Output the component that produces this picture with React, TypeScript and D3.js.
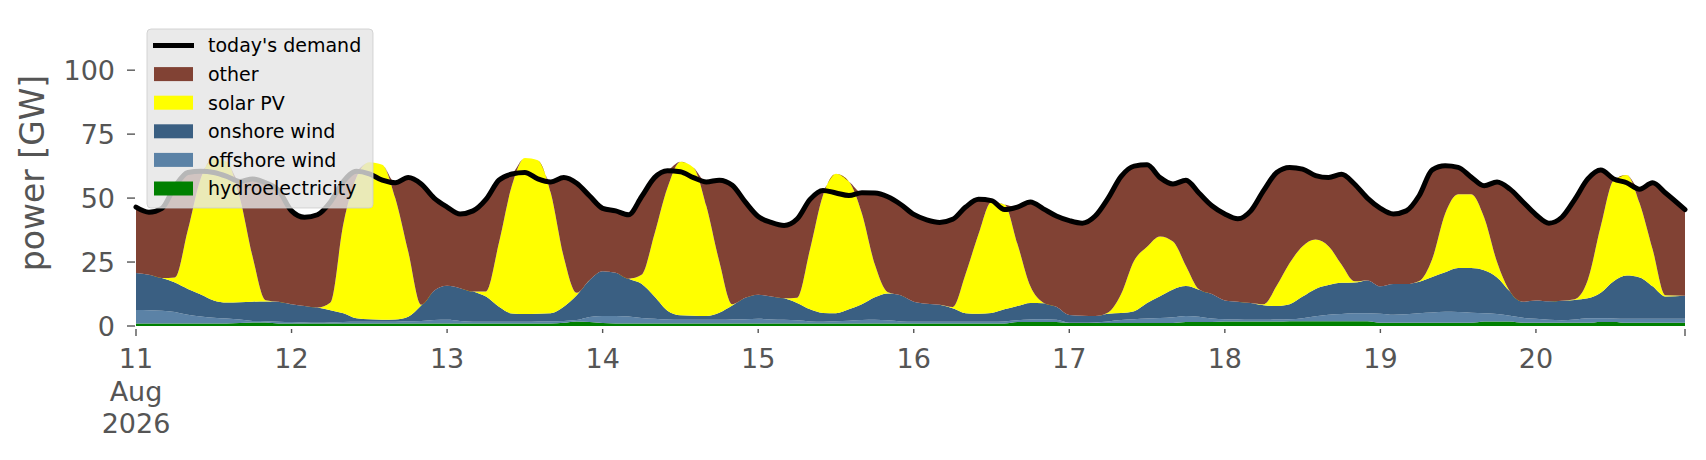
import * as d3 from "d3";

// hourly offsets from 11 Aug 2026 00:00, sampled every two hours
const hours = [...d3.range(0, 238, 2), 239];

// GW, one row per day (11..20 Aug)
const demand = [
  46.5, 44.5, 46, 54.5, 60, 60.5, 60, 58.5, 56.5, 57.5, 56, 53,
  45, 42.5, 43.5, 48.5, 56.5, 60.5, 59.5, 57, 56, 58, 55.5, 50,
  46.5, 43.8, 45, 49.5, 57, 59.4, 60, 57.5, 56.3, 58, 55.8, 50.8,
  46, 45, 43.5, 50.5, 58, 60.7, 60.3, 58, 56.3, 57, 55, 48.5,
  42.8, 40.5, 39.3, 41.8, 49.5, 53, 52, 51, 52.1, 52, 50.5, 47.5,
  43.6, 41.5, 40.5, 41.7, 46.5, 49.5, 49, 45.5, 46.5, 48.5, 45.8, 43,
  41.2, 40.2, 43, 50, 58.5, 62.5, 63, 58, 55.5, 57, 52, 47,
  43.8, 41.9, 45, 53, 60, 62, 61.3, 58.8, 58, 59.3, 55.5, 50,
  46, 43.8, 45, 51, 61, 62.6, 62, 58.2, 54.8, 56.3, 53.5, 48.5,
  43.5, 40.2, 42.5, 49.5, 57.5, 61, 57.5, 56, 53.5, 56, 52, 45.5,
];

const hydro = [
  1, 1, 1, 1, 1, 1, 1, 1, 1.2, 1.4, 1.4, 1,
  1, 1, 1, 1, 1, 1, 1, 1, 1, 1, 1, 1,
  1, 1, 1, 1, 1, 1, 1, 1, 1, 1.3, 1.8, 1.6,
  1.2, 1, 1, 1, 1, 1, 1, 1, 1, 1, 1, 1,
  1, 1, 1, 1, 1, 1, 1, 1, 1, 1, 1, 1,
  1, 1, 1, 1, 1, 1, 1, 1, 1.6, 1.6, 1.6, 1.6,
  1.2, 1.2, 1.2, 1.2, 1.2, 1.2, 1.2, 1.2, 1.2, 1.6, 1.6, 1.6,
  1.8, 1.8, 1.8, 1.8, 1.8, 1.9, 1.9, 1.9, 1.9, 1.9, 1.9, 1.9,
  1.3, 1.3, 1.3, 1.3, 1.3, 1.3, 1.3, 1.3, 1.8, 1.8, 1.8, 1.3,
  1.3, 1.3, 1.3, 1.3, 1.3, 1.6, 1.6, 1.3, 1.3, 1.3, 1.3, 1.3,
];

const offshore = [
  5.3, 5.2, 5, 4.5, 3.4, 2.7, 2.2, 1.9, 1.3, 0.6, 0.5, 0.7,
  0.6, 0.4, 0.3, 0.4, 0.6, 0.7, 0.7, 0.7, 0.7, 0.9, 1, 1.3,
  1.4, 1, 0.7, 0.7, 0.7, 0.7, 0.7, 0.8, 0.9, 0.7, 0.5, 1.9,
  2.7, 2.9, 2.7, 2.1, 1.8, 1.5, 1.4, 1.4, 1.4, 1.4, 1.5, 1.6,
  1.8, 1.5, 1.4, 1.2, 0.8, 0.7, 0.9, 1.1, 1.3, 1.4, 1.2, 0.8,
  0.7, 0.7, 0.7, 0.7, 0.7, 0.7, 0.7, 0.8, 0.6, 0.9, 1, 0.8,
  0.1, 0.1, 0.2, 0.6, 1.1, 1.4, 1.7, 1.9, 2.2, 2.3, 2, 1.3,
  0.8, 0.7, 0.6, 0.6, 0.7, 0.7, 1.1, 1.9, 2.5, 2.8, 3.1, 3.1,
  3.5, 3.1, 3.3, 3.7, 4, 4.3, 4.2, 3.9, 3.2, 2.9, 2.2, 1.9,
  1.5, 1.1, 0.9, 1.2, 1.7, 1.4, 1.3, 1.5, 1.5, 1.5, 1.5, 1.5,
];

const onshore = [
  14.4, 13.8, 12.8, 11.5, 10.1, 8.6, 6.8, 6.3, 6.8, 7.5, 7.7, 7.8,
  6.9, 6.4, 5.9, 4.8, 3.4, 1.3, 0.9, 0.7, 0.8, 1.7, 6, 11.5,
  13.3, 12.8, 11.8, 9.8, 5.8, 3.2, 3, 3, 3.1, 5.5, 9.7, 14.5,
  17.5, 16.9, 14.8, 13.4, 8.7, 3.5, 1.8, 1.6, 1.5, 2.8, 5.5, 8.4,
  9.4, 9, 8.4, 6.8, 4.7, 3.4, 3.1, 4.4, 6.2, 8.8, 10.5, 10.2,
  7.8, 7, 6.6, 5.2, 3.3, 3.1, 3.4, 4.7, 5.6, 6.5, 6.3, 5.1,
  3, 2.7, 2.5, 3, 2.8, 3.2, 6.1, 8.5, 10.9, 11.7, 10.6, 9.6,
  7.4, 7, 6.6, 5.7, 5.3, 5.9, 8.5, 10.7, 11.6, 12.2, 12, 12.8,
  10.7, 12, 11.8, 12.3, 13.9, 15.4, 17.2, 17.5, 16.8, 14.3, 9.5, 6.3,
  7.2, 7.3, 7.7, 7.7, 7.8, 10, 14.6, 16.9, 16.2, 12.7, 8.7, 9,
];

const solar = [
  0, 0, 0, 2, 23, 45.5, 55.5, 55, 41, 17.5, 0.5, 0,
  0, 0, 0, 3, 35, 55, 61.4, 60.6, 47.5, 25.5, 0.3, 0,
  0, 0, 0, 2, 25, 50, 61, 60, 47, 19.5, 1, 0,
  0, 0, 0, 3.5, 24.5, 48, 60, 58, 43, 20, 0.5, 0,
  0, 0, 0, 2, 23.5, 46, 54.5, 50, 35.5, 12.8, 0.5, 0,
  0, 0, 0, 0.5, 15.3, 31.2, 43.4, 41, 24.3, 6.5, 0.2, 0,
  0, 0, 0, 0.5, 7.4, 19.7, 22, 23.4, 18.7, 7.9, 0.2, 0,
  0, 0, 0, 0.4, 7.9, 16.1, 19.7, 19.3, 15.2, 7.1, 0.5, 0,
  0, 0, 0, 0.3, 7, 23, 28.8, 28.8, 20.7, 6, 0, 0,
  0, 0, 0, 0.3, 7.2, 26, 39.5, 39.3, 29, 14.5, 0.5, 0,
];

const yTicks = [0, 25, 50, 75, 100];

const layers = [
  { key: "hydro", label: "hydroelectricity", color: "#008000" },
  { key: "offshore", label: "offshore wind", color: "#5b82a6" },
  { key: "onshore", label: "onshore wind", color: "#3a5f82" },
  { key: "solar", label: "solar PV", color: "#ffff00" },
  { key: "other", label: "other", color: "#814234" },
];

const W = 1706;
const H = 460;
const left = 136;
const right = 1685;
const top = 19;
const bottom = 326;
const font = "DejaVu Sans";
const grey = "#555555";

export default function App() {
  const start = new Date(2026, 7, 11, 0);
  const times = hours.map((h) => d3.timeHour.offset(start, h));

  const x = d3
    .scaleTime()
    .domain([times[0], times[times.length - 1]])
    .range([left, right]);
  const y = d3.scaleLinear().domain([0, 120]).range([bottom, top]);

  const rows = times.map((t, i) => {
    const renew = hydro[i] + offshore[i] + onshore[i] + solar[i];
    return {
      t,
      hydro: hydro[i],
      offshore: offshore[i],
      onshore: onshore[i],
      solar: solar[i],
      other: Math.max(0, demand[i] - renew),
    };
  });

  const series = d3.stack<any>().keys(layers.map((l) => l.key))(rows);

  const area = d3
    .area<any>()
    .x((d) => x(d.data.t))
    .y0((d) => y(d[0]))
    .y1((d) => y(d[1]))
    .curve(d3.curveMonotoneX);

  const line = d3
    .line<number>()
    .x((_, i) => x(times[i]))
    .y((d) => y(d))
    .curve(d3.curveMonotoneX);

  const days = d3.timeDay.range(start, d3.timeDay.offset(start, 10));
  const dayFmt = d3.timeFormat("%-d");

  // legend entries, top to bottom
  const legendItems = [
    { label: "today's demand", color: "#000000", isLine: true },
    ...layers
      .slice()
      .reverse()
      .map((l) => ({ label: l.label, color: l.color, isLine: false })),
  ];
  const lx = 147;
  const ly = 29;
  const rowH = 28.6;

  return (
    <svg
      width={W}
      height={H}
      style={{ position: "absolute", left: 0, top: 0, background: "#fff" }}
      fontFamily={font}
    >
      {series.map((s, i) => (
        <path key={s.key} d={area(s) ?? ""} fill={layers[i].color} />
      ))}

      <path
        d={line(demand) ?? ""}
        fill="none"
        stroke="#000"
        strokeWidth={5}
        strokeLinejoin="round"
        strokeLinecap="round"
      />

      {/* y axis */}
      {yTicks.map((v) => (
        <g key={v}>
          <line x1={left - 9} x2={left - 1} y1={y(v)} y2={y(v)} stroke={grey} strokeWidth={1.4} />
          <text
            x={left - 21}
            y={y(v)}
            dy="0.36em"
            textAnchor="end"
            fontSize={27}
            fill={grey}
          >
            {v}
          </text>
        </g>
      ))}
      <text
        transform={`translate(43.5,${(top + bottom) / 2 + 0.5}) rotate(-90)`}
        textAnchor="middle"
        fontSize={33}
        fill={grey}
      >
        power [GW]
      </text>

      {/* x axis */}
      {days.map((d, i) => (
        <g key={+d}>
          <line
            x1={x(d)}
            x2={x(d)}
            y1={bottom + 3}
            y2={bottom + (i === 0 ? 10 : 7)}
            stroke={grey}
            strokeWidth={1.4}
          />
          <text x={x(d)} y={368} textAnchor="middle" fontSize={27} fill={grey}>
            {dayFmt(d)}
          </text>
          {i === 0 && (
            <>
              <text x={x(d)} y={400.5} textAnchor="middle" fontSize={27} fill={grey}>
                {d3.timeFormat("%b")(d)}
              </text>
              <text x={x(d)} y={433} textAnchor="middle" fontSize={27} fill={grey}>
                {d3.timeFormat("%Y")(d)}
              </text>
            </>
          )}
        </g>
      ))}
      <line
        x1={right}
        x2={right}
        y1={bottom + 3}
        y2={bottom + 10}
        stroke={grey}
        strokeWidth={1.4}
      />

      {/* legend */}
      <rect
        x={lx}
        y={ly}
        width={226}
        height={179}
        rx={4}
        fill="#e5e5e5"
        fillOpacity={0.8}
        stroke="#cccccc"
        strokeOpacity={0.8}
      />
      {legendItems.map((it, i) => {
        const cy = ly + 16.5 + i * rowH;
        return (
          <g key={it.label}>
            {it.isLine ? (
              <line x1={153} x2={194} y1={cy} y2={cy} stroke={it.color} strokeWidth={5} />
            ) : (
              <rect x={154} y={cy - 7} width={39} height={14} fill={it.color} />
            )}
            <text x={208} y={cy} dy="0.36em" fontSize={19} fill="#000">
              {it.label}
            </text>
          </g>
        );
      })}
    </svg>
  );
}
